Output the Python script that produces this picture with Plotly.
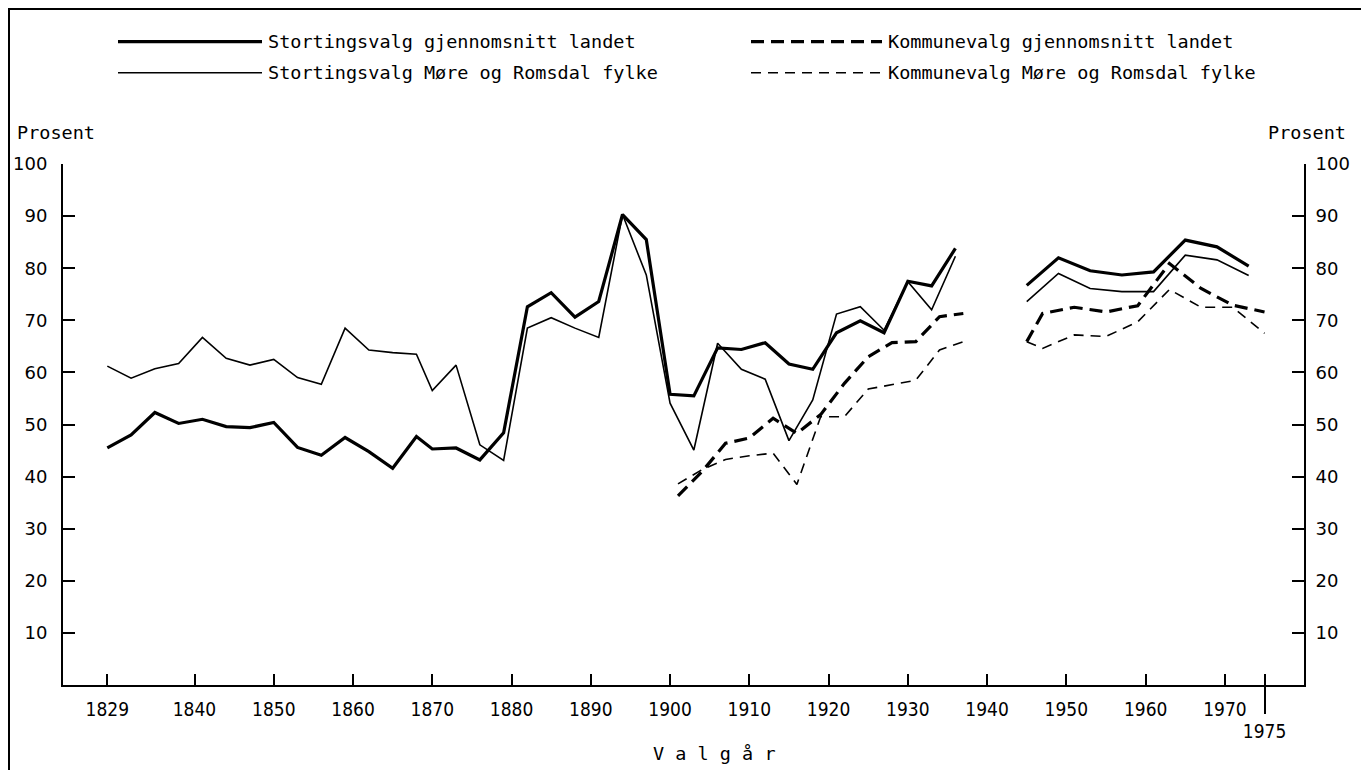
import plotly.graph_objects as go

# ---------------- data ----------------
storting_years = [1829, 1832, 1835, 1838, 1841, 1844, 1847, 1850, 1853, 1856,
                  1859, 1862, 1865, 1868, 1870, 1873, 1876, 1879, 1882, 1885,
                  1888, 1891, 1894, 1897, 1900, 1903, 1906, 1909, 1912, 1915,
                  1918, 1921, 1924, 1927, 1930, 1933, 1936,
                  1945, 1949, 1953, 1957, 1961, 1965, 1969, 1973]
storting_landet = [45.5, 48.0, 52.3, 50.2, 51.0, 49.6, 49.4, 50.4, 45.6, 44.1,
                   47.5, 44.8, 41.6, 47.7, 45.3, 45.5, 43.2, 48.4, 72.6, 75.3,
                   70.6, 73.6, 90.3, 85.5, 55.8, 55.5, 64.7, 64.4, 65.7, 61.6,
                   60.6, 67.6, 69.9, 67.6, 77.5, 76.6, 83.8,
                   76.7, 82.0, 79.5, 78.7, 79.3, 85.4, 84.1, 80.4]
storting_more = [61.2, 58.9, 60.7, 61.7, 66.7, 62.7, 61.4, 62.5, 59.0, 57.7,
                 68.5, 64.3, 63.8, 63.5, 56.5, 61.4, 46.1, 43.1, 68.5, 70.5,
                 68.5, 66.7, 90.3, 78.7, 54.1, 45.1, 65.6, 60.6, 58.7, 46.9,
                 54.7, 71.2, 72.6, 68.1, 77.4, 72.0, 82.3,
                 73.6, 79.0, 76.1, 75.5, 75.5, 82.5, 81.6, 78.6]

kommune_years = [1901, 1904, 1907, 1910, 1913, 1916, 1919, 1922, 1925, 1928,
                 1931, 1934, 1937,
                 1945, 1947, 1951, 1955, 1959, 1963, 1967, 1971, 1975]
kommune_landet = [36.3, 40.9, 46.4, 47.4, 51.2, 48.3, 51.9, 57.9, 63.0, 65.7,
                  65.9, 70.7, 71.3,
                  65.9, 71.3, 72.5, 71.6, 72.8, 80.9, 76.1, 72.9, 71.6]
kommune_more = [38.6, 41.3, 43.3, 44.0, 44.5, 38.5, 51.5, 51.5, 56.8, 57.6,
                58.5, 64.3, 65.9,
                65.9, 64.6, 67.2, 66.9, 69.7, 75.9, 72.5, 72.5, 67.5]

series_names = ["Stortingsvalg gjennomsnitt landet",
                "Stortingsvalg Møre og Romsdal fylke",
                "Kommunevalg gjennomsnitt landet",
                "Kommunevalg Møre og Romsdal fylke"]

x_tick_years = [1829, 1840, 1850, 1860, 1870, 1880, 1890, 1900, 1910, 1920,
                1930, 1940, 1950, 1960, 1970]
end_tick_year = 1975
y_tick_values = [10, 20, 30, 40, 50, 60, 70, 80, 90, 100]

X_RANGE = [1823.41, 1979.98]
Y_RANGE = [0, 100]


def with_war_gap(years, values, gap=5):
    """Insert a None break where consecutive elections are far apart (WW2)."""
    xs, ys = [], []
    for i, (yr, v) in enumerate(zip(years, values)):
        if i > 0 and yr - years[i - 1] > gap:
            xs.append((yr + years[i - 1]) / 2)
            ys.append(None)
        xs.append(yr)
        ys.append(v)
    return xs, ys


# ---------------- figure ----------------
# The page body has an 8px margin, so the figure is drawn 8px smaller and
# all page coordinates below are converted with that offset.
OFF = 8
W, H = 1369 - OFF, 770 - OFF
PLOT_L, PLOT_R, PLOT_T, PLOT_B = 63, 1304, 164, 685   # page pixels
ML = PLOT_L - OFF
MT = PLOT_T - OFF
MR = 1369 - PLOT_R
MB = 770 - PLOT_B
PW, PH = PLOT_R - PLOT_L, PLOT_B - PLOT_T

styles = [
    dict(width=3.2, dash="solid"),
    dict(width=1.6, dash="solid"),
    dict(width=3.2, dash="13px,7px"),
    dict(width=1.6, dash="10px,7px"),
]
data_sets = [
    (storting_years, storting_landet),
    (storting_years, storting_more),
    (kommune_years, kommune_landet),
    (kommune_years, kommune_more),
]

fig = go.Figure()
for name, (yrs, vals), st in zip(series_names, data_sets, styles):
    xs, ys = with_war_gap(yrs, vals)
    fig.add_trace(go.Scatter(
        x=xs, y=ys, mode="lines", name=name, connectgaps=False,
        line=dict(color="black", width=st["width"], dash=st["dash"],
                  shape="linear"),
        showlegend=False,
    ))

# helper trace so the secondary axes (right y axis, 1975 tick) are drawn
fig.add_trace(go.Scatter(x=[None], y=[None], xaxis="x2", yaxis="y2",
                         mode="lines", showlegend=False, hoverinfo="skip"))

ytick_font = dict(family="DejaVu Sans", size=18, color="black")
xtick_font = dict(family="DejaVu Sans Condensed", size=19, color="black")
mono = "DejaVu Sans Mono"

fig.update_layout(
    width=W, height=H,
    margin=dict(l=ML, r=MR, t=MT, b=MB, pad=0, autoexpand=False),
    paper_bgcolor="white", plot_bgcolor="white",
    showlegend=False,
    xaxis=dict(
        range=X_RANGE, tickmode="array", automargin=False,
        tickvals=x_tick_years + [end_tick_year],
        ticktext=[str(y) for y in x_tick_years] + [""],
        ticks="inside", ticklen=11, tickwidth=1.5, tickcolor="black",
        showline=True, linecolor="black", linewidth=2,
        showgrid=False, zeroline=False, tickfont=xtick_font,
        ticklabelstandoff=6,
    ),
    xaxis2=dict(
        range=X_RANGE, overlaying="x", anchor="y", side="bottom",
        tickmode="array", tickvals=[end_tick_year], automargin=False,
        ticktext=[str(end_tick_year)],
        ticks="outside", ticklen=28, tickwidth=1.5, tickcolor="black",
        showline=False, showgrid=False, zeroline=False, tickfont=xtick_font,
        ticklabelstandoff=1,
    ),
    yaxis=dict(
        range=Y_RANGE, tickmode="array", tickvals=y_tick_values,
        automargin=False,
        ticks="inside", ticklen=12, tickwidth=2, tickcolor="black",
        showline=True, linecolor="black", linewidth=2,
        showgrid=False, zeroline=False, tickfont=ytick_font,
        ticklabelstandoff=10,
    ),
    yaxis2=dict(
        range=Y_RANGE, overlaying="y", anchor="x", side="right",
        tickmode="array", tickvals=y_tick_values, automargin=False,
        ticks="inside", ticklen=12, tickwidth=2, tickcolor="black",
        showline=True, linecolor="black", linewidth=2,
        showgrid=False, zeroline=False, tickfont=ytick_font,
        ticklabelstandoff=6,
    ),
)


def px_x(px):
    """page x pixel -> paper coordinate"""
    return (px - PLOT_L) / PW


def px_y(py):
    """page y pixel -> paper coordinate"""
    return (PLOT_B - py) / PH


# ---- legend drawn as line samples + labels (2 x 2 grid) ----
legend_rows = [41.7, 72.7, 41.7, 72.7]
legend_x0 = [118, 118, 751, 751]
legend_x1 = [262, 262, 882, 882]
shapes = []
annotations = []
for name, st, ry, x0, x1 in zip(series_names, styles, legend_rows,
                                legend_x0, legend_x1):
    shapes.append(dict(type="line", xref="paper", yref="paper",
                       x0=px_x(x0), x1=px_x(x1), y0=px_y(ry), y1=px_y(ry),
                       line=dict(color="black", width=st["width"],
                                 dash=st["dash"])))
    annotations.append(dict(text=name, xref="paper", yref="paper",
                            x=px_x(x1 + 4), y=px_y(ry), xanchor="left",
                            yanchor="middle", showarrow=False,
                            font=dict(family=mono, size=18.5, color="black")))

# ---- axis captions ----
annotations.append(dict(text="Prosent", xref="paper", yref="paper",
                        x=px_x(15), y=px_y(132), xanchor="left",
                        yanchor="middle", showarrow=False,
                        font=dict(family=mono, size=18.5, color="black")))
annotations.append(dict(text="Prosent", xref="paper", yref="paper",
                        x=px_x(1266), y=px_y(132), xanchor="left",
                        yanchor="middle", showarrow=False,
                        font=dict(family=mono, size=18.5, color="black")))
annotations.append(dict(text="V a l g å r", xref="paper", yref="paper",
                        x=px_x(714), y=px_y(753), xanchor="center",
                        yanchor="middle", showarrow=False,
                        font=dict(family=mono, size=18.5, color="black")))

# ---- page frame ----
shapes.append(dict(type="rect", xref="paper", yref="paper",
                   x0=px_x(9), x1=px_x(1362), y0=px_y(800), y1=px_y(9),
                   line=dict(color="black", width=2), fillcolor="rgba(0,0,0,0)",
                   layer="below"))

fig.update_layout(shapes=shapes, annotations=annotations)

fig.write_html("out.html")
